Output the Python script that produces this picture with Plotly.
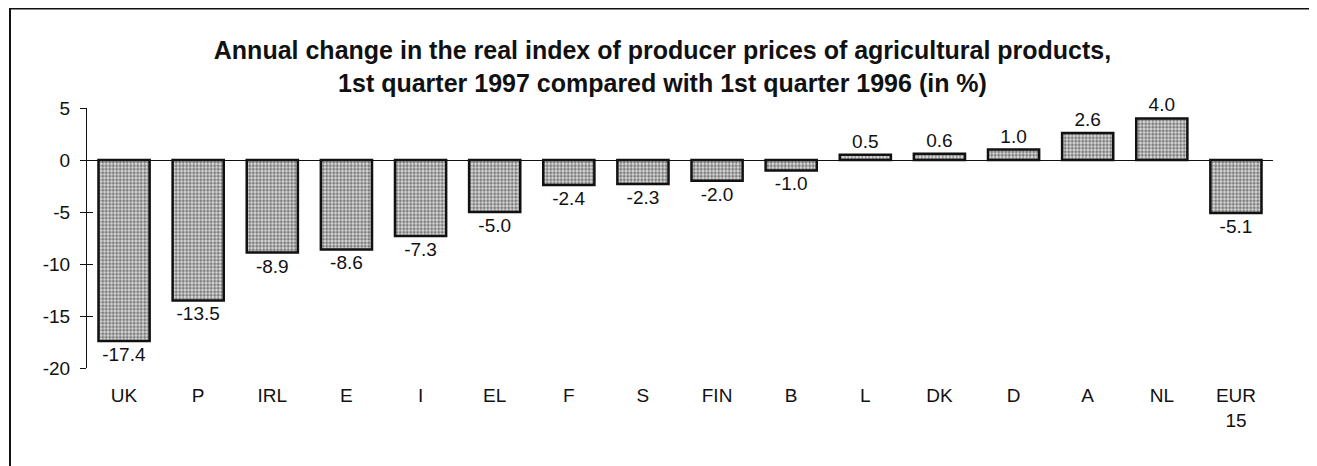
import plotly.graph_objects as go

categories = ["UK", "P", "IRL", "E", "I", "EL", "F", "S", "FIN", "B", "L", "DK", "D", "A", "NL", "EUR<br>15"]
values = [-17.4, -13.5, -8.9, -8.6, -7.3, -5.0, -2.4, -2.3, -2.0, -1.0, 0.5, 0.6, 1.0, 2.6, 4.0, -5.1]
labels = [f"{v:.1f}" for v in values]
yticks = [5, 0, -5, -10, -15, -20]
yticktext = ["5", "0", "-5", "-10", "-15", "-20"]

# page body has an 8px margin: figure drawn at (8, 8)
W, H = 1309, 458
L, R, T, B = 79, 44, 100, 98
pw, ph = W - L - R, H - T - B

fig = go.Figure(go.Bar(
    x=categories, y=values, text=labels, textposition="outside",
    textfont=dict(size=19, color="#111"), cliponaxis=False,
    width=0.69,
    marker=dict(color="#b8b8b8", line=dict(color="#111", width=2.5),
                pattern=dict(shape=".", size=3.5, solidity=0.55, fgcolor="#1a1a1a", bgcolor="#dcdcdc")),
))

fig.update_layout(
    width=W, height=H,
    margin=dict(l=L, r=R, t=T, b=B),
    paper_bgcolor="white", plot_bgcolor="white",
    font=dict(family="Liberation Sans, Arial, sans-serif", color="#111"),
    title=dict(text="<b>Annual change in the real index of producer prices of agricultural products,<br>1st quarter 1997 compared with 1st quarter 1996 (in %)</b>",
               x=0.5, xanchor="center", y=1 - 51/H, yanchor="middle",
               font=dict(size=25, color="#111")),
    showlegend=False,
    yaxis=dict(range=[-20, 5], tickvals=yticks, ticktext=yticktext, showgrid=False,
               showline=True, linecolor="#111", linewidth=1,
               ticks="outside", ticklen=6, tickcolor="#111", tickfont=dict(size=19),
               ticklabelstandoff=6,
               zeroline=True, zerolinecolor="#111", zerolinewidth=1),
    yaxis2=dict(overlaying="y", anchor="x", side="left", range=[-20, 5], tickvals=yticks,
                showticklabels=False, ticks="inside", ticklen=6, tickcolor="#111", tickwidth=1,
                showgrid=False, zeroline=False, showline=False),
    xaxis=dict(range=[-0.5, 15.5], showline=False, showgrid=False, ticks="",
               tickfont=dict(size=19), ticklabelstandoff=14),
)

# invisible trace bound to the overlay axis so its inner tick marks render
fig.add_trace(go.Scatter(x=[categories[0]], y=[0], yaxis="y2", mode="markers",
                         marker=dict(opacity=0, size=1), hoverinfo="skip"))

fig.add_shape(type="rect", xref="paper", yref="paper", x0=(2 - L) / pw, x1=(1303 - L) / pw,
              y0=-0.6, y1=(H - B - 0.5) / ph, line=dict(color="#111", width=2),
              fillcolor="rgba(0,0,0,0)", layer="below")

fig.write_html("out.html")
